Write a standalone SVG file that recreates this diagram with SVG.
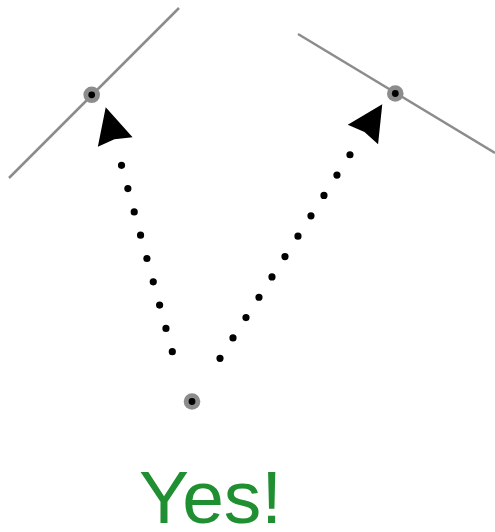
<svg xmlns="http://www.w3.org/2000/svg" width="495" height="532" viewBox="0 0 495 532">
<style>
.plane{stroke:#8c8c8c;stroke-width:2.5;fill:none}
.ring{fill:#8c8c8c}
.core{fill:#000}
.dots{stroke:#000;stroke-width:7.2;stroke-linecap:round;stroke-dasharray:0 24.15;fill:none}
.label{font-family:"Liberation Sans",Arial,sans-serif;font-size:75px;fill:#1f8f32}
</style>
<defs>
<marker id="head" markerUnits="userSpaceOnUse" orient="auto" refX="0" refY="0" markerWidth="40" markerHeight="40" viewBox="-2 -20 40 40" overflow="visible">
<path d="M36,0 L0,-18 L3,0 L0,18 Z" fill="#000"/>
</marker>
</defs>
<g id="plane-left">
<line class="plane" x1="9" y1="178" x2="179" y2="8"/>
<circle class="ring" cx="91.7" cy="94.8" r="8.3"/>
<circle class="core" cx="91.7" cy="94.8" r="3.4"/>
</g>
<g id="plane-right">
<line class="plane" x1="298" y1="34" x2="495" y2="153"/>
<circle class="ring" cx="395.3" cy="93.5" r="8.3"/>
<circle class="core" cx="395.3" cy="93.5" r="3.4"/>
</g>
<g id="origin">
<circle class="ring" cx="192" cy="401.5" r="8.3"/>
<circle class="core" cx="192" cy="401.5" r="3.4"/>
</g>
<g id="connectors">
<path class="dots" d="M172.3,351.7 L115.2,142.1" marker-end="url(#head)"/>
<path class="dots" d="M220,358.3 L362.9,134.5" marker-end="url(#head)"/>
</g>
<g id="caption">
<text class="label" x="139" y="523">Yes!</text>
</g>
</svg>
